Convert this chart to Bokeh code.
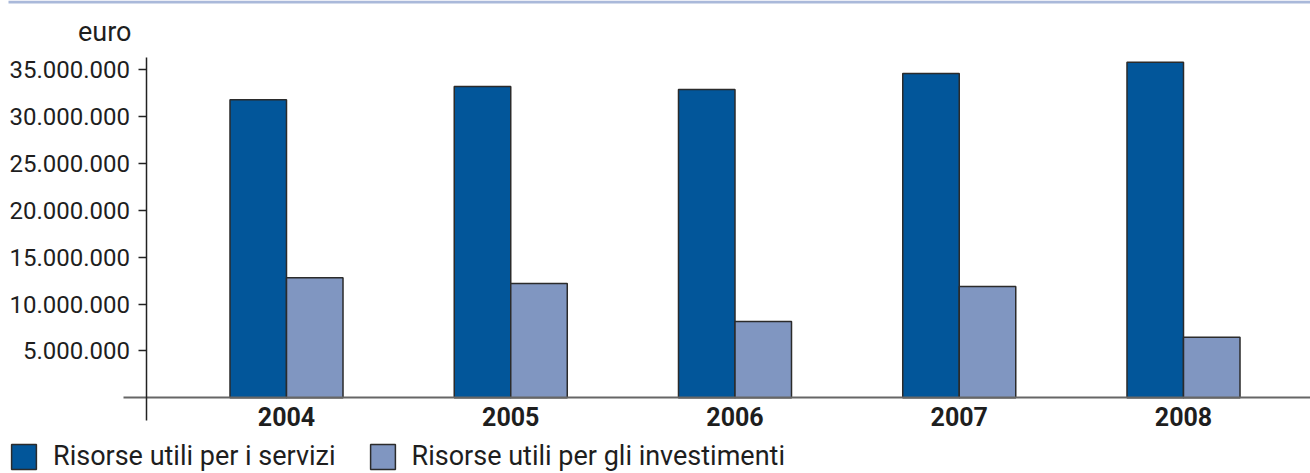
from bokeh.plotting import figure
from bokeh.models import (ColumnDataSource, FixedTicker, Legend, LegendItem, Range1d,
                          Label, BoxAnnotation)
from bokeh.transform import dodge
from bokeh.embed import file_html
from bokeh.resources import INLINE

# ---- data ----
years = ["2004", "2005", "2006", "2007", "2008"]
servizi = [31_800_000, 33_220_000, 32_900_000, 34_610_000, 35_810_000]
investimenti = [12_810_000, 12_200_000, 8_140_000, 11_880_000, 6_470_000]
series_names = ["Risorse utili per i servizi", "Risorse utili per gli investimenti"]
y_ticks = [5_000_000, 10_000_000, 15_000_000, 20_000_000, 25_000_000, 30_000_000, 35_000_000]
y_tick_labels = ["5.000.000", "10.000.000", "15.000.000", "20.000.000",
                 "25.000.000", "30.000.000", "35.000.000"]
unit_label = "euro"

# ---- style / layout (pixels) ----
FONT = "Roboto"
C_SERV = "#02569a"
C_INV = "#8096c1"
C_OUT = "#2b2b2b"
C_TOP = "#aab9da"
C_BASE = "#666666"
C_AX = "#222222"
TXT = "#1e1e1e"
BAR_W = 0.252
W, H = 1310, 473
CAT0_PX, CAT_STEP_PX = 286.0, 224.25      # first category centre, category spacing
ZERO_PX, PX_PER_UNIT = 397.3, 9.371e-6    # y=0 position, pixels per euro


def xd(px):
    return (px - CAT0_PX) / CAT_STEP_PX


def yd(py):
    return (ZERO_PX - py) / PX_PER_UNIT


src = ColumnDataSource(dict(x=list(range(len(years))), servizi=servizi, investimenti=investimenti))

p = figure(width=W, height=H, output_backend="svg", toolbar_location=None, title=None,
           x_range=Range1d(xd(0), xd(W)), y_range=Range1d(yd(H), yd(0)),
           min_border_left=0, min_border_right=0, min_border_top=0, min_border_bottom=0)
p.outline_line_color = None
p.grid.visible = False
p.border_fill_color = "white"
p.background_fill_color = "white"

# top rule and unit label
p.add_layout(BoxAnnotation(left=xd(8), right=xd(W), top=yd(0), bottom=yd(3),
                           fill_color=C_TOP, fill_alpha=1, line_color=None))
p.add_layout(Label(x=xd(131), y=yd(31.7), text=unit_label, text_align="right",
                   text_baseline="alphabetic", text_font=FONT, text_font_size="27px",
                   text_color=TXT))

r1 = p.vbar(x=dodge("x", -BAR_W / 2, range=p.x_range), top="servizi", bottom=0, width=BAR_W,
            source=src, fill_color=C_SERV, line_color=C_OUT, line_width=1.5)
r2 = p.vbar(x=dodge("x", BAR_W / 2, range=p.x_range), top="investimenti", bottom=0, width=BAR_W,
            source=src, fill_color=C_INV, line_color=C_OUT, line_width=1.5)

# x axis on the zero line
xa = p.xaxis[0]
xa.fixed_location = 0
xa.bounds = (xd(123), xd(W))
xa.ticker = FixedTicker(ticks=list(range(len(years))))
xa.major_label_overrides = {i: y for i, y in enumerate(years)}
xa.major_tick_out = 0
xa.major_tick_in = 0
xa.minor_tick_out = 0
xa.minor_tick_in = 0
xa.axis_line_color = C_BASE
xa.axis_line_width = 2
xa.major_label_standoff = 9
xa.major_label_text_font = FONT
xa.major_label_text_font_style = "bold"
xa.major_label_text_font_size = "25px"
xa.major_label_text_color = TXT

# y axis
ya = p.yaxis[0]
ya.fixed_location = xd(145.5)
ya.bounds = (yd(420), yd(57))
ya.ticker = FixedTicker(ticks=y_ticks)
ya.major_label_overrides = {t: l for t, l in zip(y_ticks, y_tick_labels)}
ya.major_tick_out = 8
ya.major_tick_in = 0
ya.minor_tick_out = 0
ya.minor_tick_in = 0
ya.axis_line_color = C_AX
ya.axis_line_width = 1.5
ya.major_tick_line_color = C_AX
ya.major_tick_line_width = 1.5
ya.major_label_standoff = 8
ya.major_label_text_font = FONT
ya.major_label_text_font_size = "24px"
ya.major_label_text_color = TXT

legend = Legend(items=[LegendItem(label=series_names[0], renderers=[r1]),
                       LegendItem(label=series_names[1], renderers=[r2])],
                orientation="horizontal", location=(8, 1),
                glyph_width=31, glyph_height=31, label_standoff=14, spacing=31,
                padding=0, margin=0, border_line_color=None, background_fill_alpha=0,
                label_text_font=FONT, label_text_font_size="27px", label_text_color=TXT)
p.add_layout(legend)

open("out.html", "w").write(file_html(p, INLINE))
